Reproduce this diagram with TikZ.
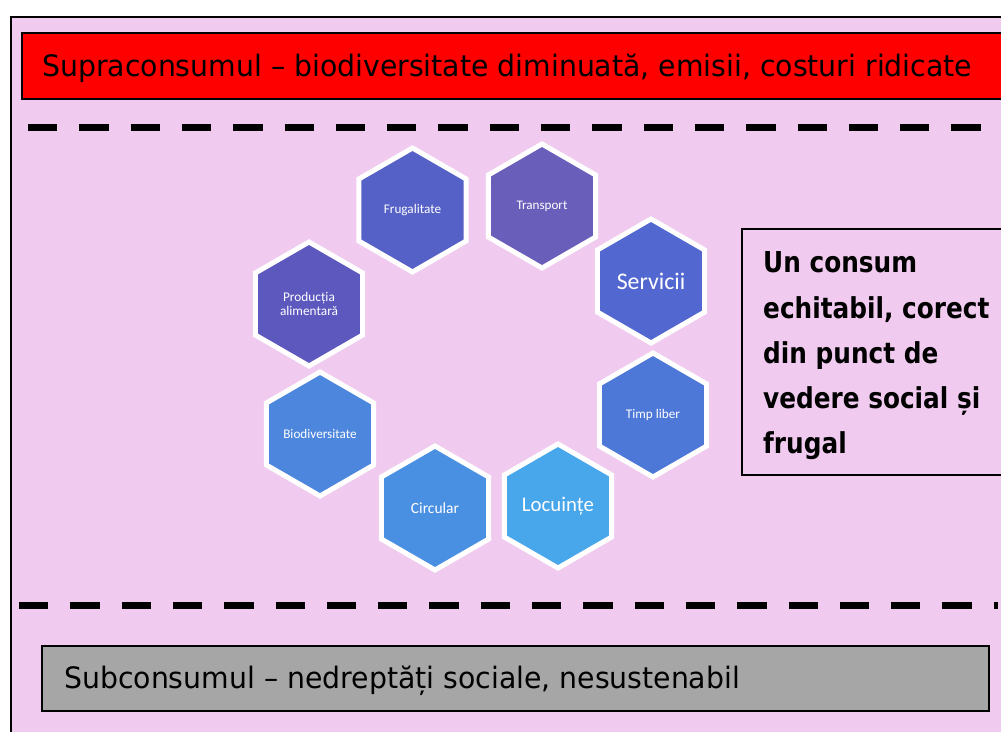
\documentclass[tikz,border=0pt]{standalone}
\usepackage{fontspec}
\usetikzlibrary{shapes.geometric}
\newfontfamily\hdrfont[FakeStretch=0.96]{DejaVu Sans}
\newfontfamily\boxfont[FakeStretch=0.86]{DejaVu Sans}
\newfontfamily\hexfont{Carlito}
\definecolor{pinkbg}{HTML}{F0CBEF}
\definecolor{greybox}{HTML}{A6A6A6}
\definecolor{hFrug}{HTML}{5561C6}
\definecolor{hTrans}{HTML}{695EB9}
\definecolor{hServ}{HTML}{5268D0}
\definecolor{hTimp}{HTML}{4E78D8}
\definecolor{hLoc}{HTML}{48A6EB}
\definecolor{hCirc}{HTML}{4A90E2}
\definecolor{hBio}{HTML}{4C86DD}
\definecolor{hProd}{HTML}{5C58BE}
\tikzset{
  hexa/.style={regular polygon, regular polygon sides=6, shape border rotate=30,
    minimum size=124pt, inner sep=0pt, draw=white, line width=5pt,
    text=white, font=\hexfont, align=center},
  dashline/.style={line width=7pt, dash pattern=on 29.3pt off 22pt},
  banner/.style={draw=black, line width=1.5pt}
}
\begin{document}
\begin{tikzpicture}[x=1pt,y=-1pt]
\useasboundingbox (0,0) rectangle (1001,731);
\clip (0,0) rectangle (1001,731);
\fill[white] (0,0) rectangle (1001,731);
% outer frame
\draw[fill=pinkbg, line width=1.2pt] (11,17) rectangle (1040,760);
% top banner
\draw[banner, fill=red] (22,33) rectangle (1040,99);
\node[anchor=base west, inner sep=0pt, font=\hdrfont\fontsize{29.5}{32}\selectfont] (top) at (42,76)
  {Supraconsumul – biodiversitate diminuată, emisii, costuri ridicate};
% dashed separators
\coordinate (d1a) at (28,127);
\coordinate (d1b) at (981,127);
\coordinate (d2a) at (19,605);
\coordinate (d2b) at (998,605);
\draw[dashline] (d1a) -- (d1b);
\draw[dashline] (d2a) -- (d2b);
% bottom banner
\draw[line width=2pt, fill=greybox] (42,646) rectangle (989,711);
\node[anchor=base west, inner sep=0pt, font=\hdrfont\fontsize{29.5}{32}\selectfont] (bottom) at (64,688.7)
  {Subconsumul – nedreptăți sociale, nesustenabil};
% right box
\draw[banner] (742,229) rectangle (1040,475);
\node[anchor=north west, inner sep=0pt, align=left,
  font=\boxfont\bfseries\fontsize{28.8}{45.2}\selectfont] (right) at (763,251.7)
  {Un consum\\echitabil, corect\\din punct de\\vedere social și\\frugal};
% hexagons
\node[hexa, fill=hFrug,  font=\hexfont\fontsize{13.2}{14}\selectfont] (frug)  at (412.5,210) {Frugalitate};
\node[hexa, fill=hTrans, font=\hexfont\fontsize{13.1}{14}\selectfont] (trans) at (542,206) {Transport};
\node[hexa, fill=hServ,  font=\hexfont\fontsize{23.8}{25}\selectfont] (serv)  at (651,281) {Servicii};
\node[hexa, fill=hTimp,  font=\hexfont\fontsize{13.2}{14}\selectfont] (timp)  at (653,415) {Timp liber};
\node[hexa, fill=hLoc,   font=\hexfont\fontsize{20.8}{22}\selectfont] (loc)   at (558,506) {Locuințe};
\node[hexa, fill=hCirc,  font=\hexfont\fontsize{15.5}{17}\selectfont] (circ)  at (435,508) {Circular};
\node[hexa, fill=hBio,   font=\hexfont\fontsize{13.2}{14}\selectfont] (bio)   at (320,434) {Biodiversitate};
\node[hexa, fill=hProd,  font=\hexfont\fontsize{13.3}{14}\selectfont] (prod)  at (309,304) {Producția\\alimentară};
\end{tikzpicture}
\end{document}
